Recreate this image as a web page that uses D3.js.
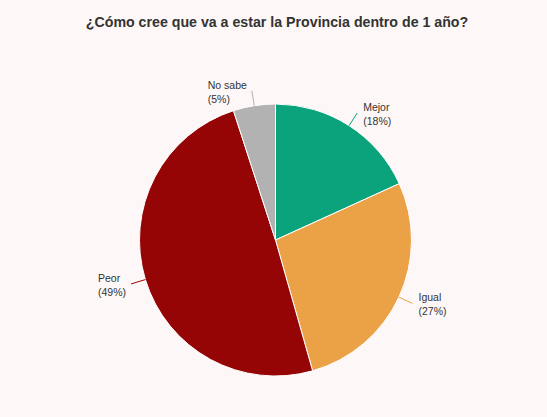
<!DOCTYPE html>
<html>
<head>
<meta charset="utf-8">
<script src="https://cdn.jsdelivr.net/npm/d3@7"></script>
<style>
  html, body { margin: 0; padding: 0; background: #fdf8f7; }
  svg { display: block; font-family: "Liberation Sans", Arial, sans-serif; }
</style>
</head>
<body>
<svg id="chart" width="547" height="417"></svg>
<script>
const titleText = "¿Cómo cree que va a estar la Provincia dentro de 1 año?";
const categories = ["Mejor", "Igual", "Peor", "No sabe"];
const values = [18.2, 27.4, 49.4, 5.0];
const pctLabels = ["18%", "27%", "49%", "5%"];
const colors = ["#0aa37b", "#eba146", "#950505", "#b2b2b2"];

const W = 547, H = 417;
const cx = 275.5, cy = 240, R = 136;

const svg = d3.select("#chart");
svg.append("rect").attr("width", W).attr("height", H).attr("fill", "#fdf8f7");

svg.append("text")
  .attr("x", 277).attr("y", 27)
  .attr("text-anchor", "middle")
  .attr("font-size", 14.2).attr("font-weight", "bold")
  .attr("fill", "#333333")
  .text(titleText);

const data = categories.map((c, i) => ({ name: c, value: values[i], pct: pctLabels[i], color: colors[i] }));
const pie = d3.pie().value(d => d.value).sort(null);
const arcs = pie(data);
const arc = d3.arc().innerRadius(0).outerRadius(R);

const g = svg.append("g").attr("transform", `translate(${cx},${cy})`);
g.selectAll("path").data(arcs).join("path")
  .attr("d", arc)
  .attr("fill", d => d.data.color)
  .attr("stroke", "#ffffff")
  .attr("stroke-width", 1)
  .attr("stroke-linejoin", "round");

const connLen = 15;
arcs.forEach(a => {
  const mid = (a.startAngle + a.endAngle) / 2;
  const sx = Math.sin(mid), sy = -Math.cos(mid);
  const x0 = sx * R, y0 = sy * R;
  const x1 = sx * (R + connLen), y1 = sy * (R + connLen);
  g.append("line")
    .attr("x1", x0).attr("y1", y0).attr("x2", x1).attr("y2", y1)
    .attr("stroke", a.data.color).attr("stroke-width", 1);
  const right = sx >= 0;
  const t = g.append("text")
    .attr("font-size", 10.5).attr("fill", "#333333");
  const l1 = t.append("tspan").text(a.data.name);
  const l2 = t.append("tspan").text("(" + a.data.pct + ")");
  const w = Math.max(l1.node().getComputedTextLength(), l2.node().getComputedTextLength());
  const tx = right ? x1 + 6 : x1 - 5 - w;
  const ty = y1 - 2;
  l1.attr("x", tx).attr("y", ty);
  l2.attr("x", tx).attr("y", ty + 14);
});
</script>
</body>
</html>
